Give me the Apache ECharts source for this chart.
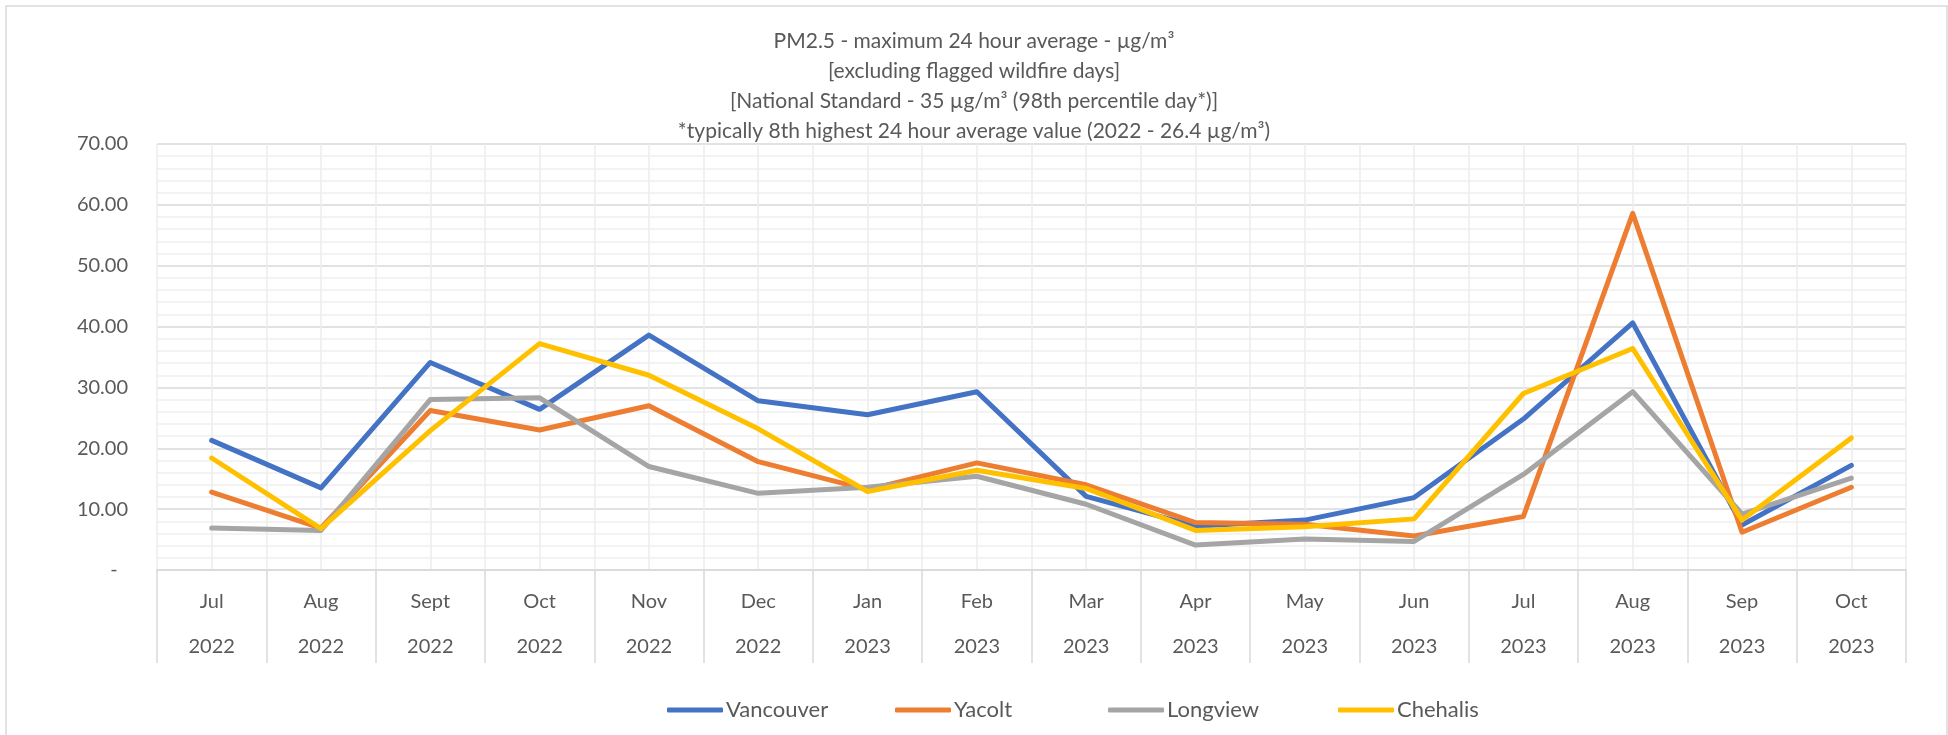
<!DOCTYPE html>
<html lang="en">
<head>
	<meta charset="UTF-8">
	<title>PM2.5</title>
	<style type="text/css">
		html, body { margin: 0; padding: 0; background: #fff; }
	</style>
	<script src="https://cdn.jsdelivr.net/npm/echarts@6/dist/echarts.min.js"></script>
</head>
<body>
	<div id="main" style="width: 1948px;height:735px;"></div>
	<script type="text/javascript">
	// months / years for the two-level category axis
	var months = ['Jul','Aug','Sept','Oct','Nov','Dec','Jan','Feb','Mar','Apr','May','Jun','Jul','Aug','Sep','Oct']
	var years = ['2022','2022','2022','2022','2022','2022','2023','2023','2023','2023','2023','2023','2023','2023','2023','2023']
	var yTicks = [0, 10, 20, 30, 40, 50, 60, 70]

	var vancouver = [21.3, 13.5, 34.1, 26.4, 38.6, 27.8, 25.5, 29.3, 12.1, 7.2, 8.2, 11.9, 24.8, 40.6, 7.4, 17.2]
	var yacolt    = [12.8, 6.9, 26.2, 23.0, 27.0, 17.8, 13.2, 17.6, 14.0, 7.8, 7.5, 5.6, 8.8, 58.6, 6.2, 13.6]
	var longview  = [6.9, 6.5, 28.0, 28.3, 17.0, 12.6, 13.6, 15.4, 10.8, 4.1, 5.1, 4.7, 15.7, 29.3, 9.2, 15.1]
	var chehalis  = [18.4, 6.8, 22.9, 37.2, 32.0, 23.2, 12.9, 16.4, 13.4, 6.5, 7.1, 8.4, 29.0, 36.4, 8.2, 21.7]

	var names = ['Vancouver', 'Yacolt', 'Longview', 'Chehalis']
	var colors = ['#4472C4', '#ED7D31', '#A5A5A5', '#FFC000']
	var values = [vancouver, yacolt, longview, chehalis]
	var legendLeft = [662, 890, 1103, 1333]

	var txt = '#595959'
	var font = 'Lato, "Open Sans", sans-serif'

	var catLabels = []
	for (var i = 0; i < months.length; i++) {
		catLabels.push(months[i] + '\n' + years[i])
	}

	var series = [], legends = []
	for (var i = 0; i < names.length; i++) {
		series.push({
			name: names[i],
			type: 'line',
			data: values[i],
			xAxisIndex: 0,
			symbol: 'none',
			lineStyle: { color: colors[i], width: 5, cap: 'round', join: 'round' },
			itemStyle: { color: colors[i] }
		})
		legends.push({
			data: [names[i]],
			left: legendLeft[i],
			top: 694,
			itemWidth: 56,
			itemHeight: 5,
			itemGap: 3,
			icon: 'roundRect',
			textStyle: { color: txt, fontSize: 22, fontFamily: font, padding: [0, 0, 0, -2] }
		})
	}

	var myChart = echarts.init(document.getElementById('main'));
	var option = {
		backgroundColor: '#fff',
		animation: false,
		title: {
			text: 'PM2.5 - maximum 24 hour average - µg/m³\n[excluding flagged wildfire days]\n[National Standard - 35 µg/m³ (98th percentile day*)]\n*typically 8th highest 24 hour average value (2022 - 26.4 µg/m³)',
			left: 'center',
			top: 21,
			textStyle: { color: txt, fontSize: 21, fontWeight: 'normal', lineHeight: 30, fontFamily: font, align: 'center' }
		},
		legend: legends,
		grid: { left: 157, right: 42, top: 144, bottom: 165 },
		graphic: [{
			type: 'rect',
			shape: { x: 6, y: 6, width: 1941, height: 740 },
			style: { fill: 'none', stroke: '#d9d9d9', lineWidth: 1.5 },
			silent: true
		}],
		xAxis: [{
			type: 'category',
			data: catLabels,
			boundaryGap: true,
			axisLine: { lineStyle: { color: '#d9d9d9', width: 1.5 } },
			axisTick: { show: true, length: 93, lineStyle: { color: '#d9d9d9', width: 1.5 } },
			axisLabel: { color: txt, fontSize: 20, fontFamily: font, lineHeight: 45, margin: 9 },
			splitLine: { show: false }
		}, {
			type: 'value',
			min: 0,
			max: 32,
			interval: 1,
			position: 'top',
			axisLine: { show: false },
			axisTick: { show: false },
			axisLabel: { show: false },
			splitLine: { show: true, lineStyle: { color: '#ececec', width: 1.5 } }
		}],
		yAxis: {
			type: 'value',
			min: yTicks[0],
			max: yTicks[yTicks.length - 1],
			interval: 10,
			axisLine: { show: false },
			axisTick: { show: false },
			axisLabel: {
				color: txt, fontSize: 20, fontFamily: font, margin: 29,
				formatter: function (v) { return v === 0 ? '-  ' : v.toFixed(2) }
			},
			splitLine: { lineStyle: { color: '#d9d9d9', width: 1.5 } },
			minorTick: { show: false, splitNumber: 5 },
			minorSplitLine: { show: true, lineStyle: { color: '#f0f0f0', width: 1.5 } }
		},
		series: series
	};
	myChart.setOption(option);
	</script>
</body>
</html>
